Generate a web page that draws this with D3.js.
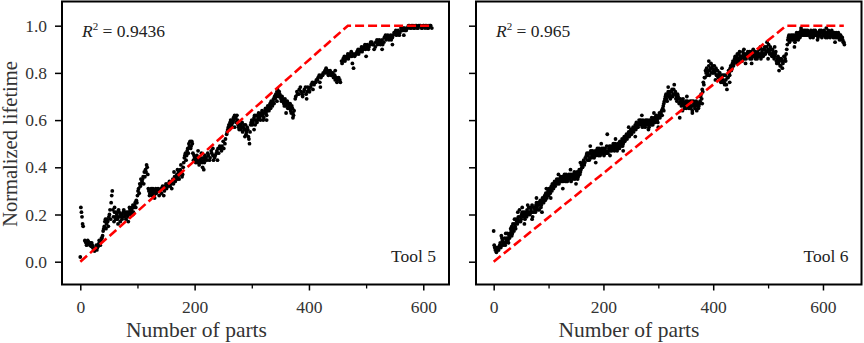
<!DOCTYPE html>
<html><head><meta charset="utf-8">
<script src="https://cdn.jsdelivr.net/npm/d3@7"></script>
<style>body{margin:0;background:#fff}svg{display:block}</style>
</head><body><svg id="c" width="864" height="343"></svg>
<script>
// Tool 5: [number of parts, normalized lifetime]
const tool5 = [[0,0.02],[1,0.23],[3,0.19],[4,0.16],[5,0.15],[8,0.09],[10,0.08],[12,0.075],[14,0.085],[17,0.07],[20,0.08],[22,0.06],[24,0.05],[26,0.055],[28,0.07],[30,0.06],[32,0.075],[34,0.08],[36,0.09],[38,0.10],[40,0.13],[42,0.15],[44,0.18],[46,0.16],[48,0.17],[50,0.19],[52,0.22],[54,0.25],[55,0.28],[56,0.30],[58,0.19],[60,0.21],[62,0.18],[64,0.20],[66,0.19],[68,0.21],[70,0.17],[72,0.20],[74,0.19],[76,0.22],[78,0.20],[80,0.18],[82,0.21],[84,0.20],[86,0.23],[88,0.21],[90,0.22],[92,0.24],[94,0.23],[96,0.25],[98,0.26],[100,0.28],[102,0.31],[104,0.33],[106,0.35],[108,0.34],[110,0.36],[112,0.38],[114,0.39],[116,0.41],[118,0.37],[120,0.30],[122,0.29],[124,0.31],[126,0.28],[128,0.30],[130,0.29],[132,0.31],[135,0.30],[138,0.28],[141,0.31],[144,0.32],[147,0.30],[150,0.33],[153,0.32],[156,0.34],[159,0.33],[162,0.35],[164,0.38],[166,0.34],[168,0.36],[170,0.35],[172,0.38],[174,0.37],[176,0.41],[178,0.36],[180,0.40],[182,0.44],[184,0.46],[186,0.45],[188,0.48],[190,0.50],[192,0.51],[194,0.49],[196,0.50],[198,0.43],[200,0.44],[202,0.42],[204,0.45],[206,0.43],[208,0.41],[210,0.44],[212,0.46],[214,0.40],[216,0.43],[218,0.45],[220,0.44],[223,0.46],[226,0.43],[229,0.47],[232,0.45],[235,0.44],[238,0.46],[241,0.48],[244,0.49],[247,0.47],[250,0.51],[253,0.50],[256,0.54],[258,0.56],[260,0.58],[262,0.59],[264,0.57],[266,0.60],[268,0.61],[270,0.62],[272,0.61],[274,0.62],[276,0.58],[278,0.56],[280,0.58],[282,0.57],[284,0.55],[286,0.58],[288,0.56],[290,0.54],[292,0.57],[294,0.53],[296,0.50],[298,0.58],[300,0.60],[302,0.59],[304,0.61],[306,0.58],[308,0.62],[310,0.60],[312,0.63],[314,0.61],[316,0.62],[318,0.64],[320,0.60],[322,0.63],[324,0.65],[326,0.62],[328,0.66],[330,0.64],[332,0.67],[334,0.68],[336,0.66],[338,0.69],[340,0.70],[342,0.71],[344,0.72],[346,0.71],[348,0.72],[350,0.70],[352,0.68],[354,0.69],[356,0.67],[358,0.69],[360,0.66],[362,0.68],[364,0.67],[366,0.65],[368,0.64],[370,0.66],[372,0.63],[374,0.64],[377,0.70],[380,0.71],[383,0.73],[386,0.72],[389,0.70],[392,0.73],[395,0.71],[398,0.74],[401,0.72],[404,0.75],[407,0.73],[410,0.76],[413,0.77],[416,0.78],[419,0.76],[422,0.79],[425,0.80],[428,0.81],[431,0.80],[434,0.79],[437,0.81],[440,0.80],[443,0.78],[446,0.77],[449,0.76],[452,0.78],[455,0.76],[458,0.84],[460,0.86],[463,0.85],[466,0.87],[469,0.86],[472,0.88],[475,0.87],[478,0.82],[481,0.88],[484,0.89],[487,0.88],[490,0.90],[493,0.89],[496,0.91],[499,0.90],[502,0.92],[505,0.91],[508,0.93],[511,0.92],[514,0.90],[517,0.93],[520,0.92],[523,0.94],[526,0.93],[529,0.92],[532,0.95],[535,0.94],[538,0.96],[541,0.95],[544,0.94],[547,0.96],[550,0.97],[553,0.96],[556,0.98],[559,0.97],[562,0.98],[565,0.99],[568,0.98],[571,0.99],[574,1.00],[577,0.99],[580,1.00],[583,0.99],[586,1.00],[589,0.99],[592,1.00],[595,1.00],[598,0.99],[601,1.00],[604,1.00],[607,0.99],[610,1.00],[613,1.00]];
const tool5More = [[2,0.21],[9,0.085],[11,0.07],[13,0.09],[15,0.08],[18,0.08],[19,0.065],[21,0.07],[23,0.055],[25,0.045],[27,0.06],[29,0.05],[31,0.065],[33,0.09],[35,0.07],[37,0.10],[39,0.11],[41,0.14],[43,0.17],[45,0.14],[47,0.18],[49,0.15],[51,0.20],[53,0.18],[57,0.22],[59,0.17],[61,0.19],[63,0.21],[65,0.18],[67,0.22],[69,0.19],[71,0.20],[73,0.18],[75,0.21],[77,0.19],[79,0.21],[81,0.20],[83,0.19],[85,0.21],[87,0.22],[89,0.20],[91,0.23],[93,0.21],[95,0.24],[97,0.23],[99,0.25],[101,0.30],[103,0.29],[105,0.32],[107,0.33],[109,0.35],[111,0.33],[113,0.36],[115,0.38],[117,0.40],[119,0.31],[121,0.28],[123,0.30],[125,0.29],[127,0.31],[129,0.28],[131,0.30],[133,0.29],[136,0.31],[139,0.30],[142,0.29],[145,0.31],[148,0.32],[151,0.31],[154,0.33],[157,0.32],[160,0.34],[163,0.33],[165,0.36],[167,0.35],[169,0.37],[171,0.36],[173,0.35],[175,0.39],[177,0.38],[179,0.37],[181,0.42],[183,0.45],[185,0.43],[187,0.47],[189,0.46],[191,0.49],[193,0.48],[195,0.51],[197,0.46],[199,0.45],[201,0.43],[203,0.44],[205,0.42],[207,0.44],[209,0.42],[211,0.43],[213,0.42],[215,0.44],[217,0.42],[219,0.44],[221,0.43],[224,0.45],[227,0.44],[230,0.46],[233,0.43],[236,0.45],[239,0.47],[242,0.46],[245,0.48],[248,0.49],[251,0.48],[254,0.52],[257,0.55],[259,0.57],[261,0.56],[263,0.60],[265,0.58],[267,0.59],[269,0.60],[271,0.61],[273,0.59],[275,0.60],[277,0.57],[279,0.58],[281,0.56],[283,0.59],[285,0.57],[287,0.56],[289,0.58],[291,0.55],[293,0.56],[295,0.52],[297,0.55],[299,0.59],[301,0.58],[303,0.60],[305,0.62],[307,0.60],[309,0.59],[311,0.61],[313,0.62],[315,0.60],[317,0.63],[319,0.62],[321,0.61],[323,0.64],[325,0.63],[327,0.64],[329,0.65],[331,0.66],[333,0.65],[335,0.67],[337,0.68],[339,0.67],[341,0.69],[343,0.70],[345,0.73],[347,0.70],[349,0.71],[351,0.69],[353,0.70],[355,0.68],[357,0.66],[359,0.68],[361,0.67],[363,0.65],[365,0.66],[367,0.67],[369,0.63],[371,0.65],[373,0.62],[376,0.69],[379,0.72],[382,0.71],[385,0.74],[388,0.71],[391,0.72],[394,0.74],[397,0.72],[400,0.73],[403,0.74],[406,0.76],[409,0.75],[412,0.76],[415,0.77],[418,0.79],[421,0.78],[424,0.79],[427,0.80],[430,0.82],[433,0.81],[436,0.80],[439,0.79],[442,0.80],[445,0.79],[448,0.78],[451,0.77],[454,0.77],[457,0.85],[459,0.85],[462,0.87],[465,0.86],[468,0.88],[471,0.87],[474,0.89],[477,0.88],[480,0.87],[483,0.88],[486,0.90],[489,0.89],[492,0.91],[495,0.90],[498,0.92],[501,0.91],[504,0.90],[507,0.92],[510,0.93],[513,0.92],[516,0.91],[519,0.94],[522,0.93],[525,0.92],[528,0.94],[531,0.93],[534,0.96],[537,0.95],[540,0.94],[543,0.96],[546,0.95],[549,0.97],[552,0.98],[555,0.97],[558,0.96],[561,0.99],[564,0.98],[567,0.99],[570,0.98],[573,0.99],[576,1.00],[579,0.99],[582,1.00],[585,0.99],[588,1.00],[591,0.99],[594,1.00],[597,0.99],[600,1.00],[603,0.99],[606,1.00],[609,0.99],[612,1.00],[615,0.99]];
const tool5Scatter = [[60,0.23],[66,0.16],[84,0.17],[92,0.20],[130,0.27],[146,0.28],[160,0.31],[170,0.39],[206,0.47],[216,0.39],[232,0.48],[240,0.43],[270,0.57],[288,0.53],[304,0.56],[326,0.60],[344,0.68],[360,0.63],[372,0.61],[396,0.69],[420,0.74],[446,0.81],[476,0.84],[500,0.87],[528,0.90],[546,0.92],[566,0.96]];

// Tool 6: [number of parts, normalized lifetime]
const tool6 = [[0,0.13],[1,0.07],[3,0.05],[5,0.04],[7,0.06],[9,0.05],[11,0.07],[13,0.06],[15,0.10],[17,0.07],[19,0.08],[21,0.07],[23,0.09],[25,0.12],[27,0.08],[29,0.10],[31,0.14],[33,0.11],[35,0.16],[37,0.13],[39,0.15],[41,0.18],[43,0.16],[45,0.19],[47,0.22],[49,0.17],[51,0.20],[53,0.19],[55,0.21],[57,0.18],[59,0.20],[61,0.22],[63,0.20],[65,0.21],[67,0.23],[69,0.21],[71,0.19],[73,0.23],[75,0.22],[77,0.24],[79,0.23],[81,0.25],[83,0.22],[85,0.26],[87,0.24],[89,0.27],[91,0.25],[93,0.28],[95,0.29],[97,0.27],[99,0.30],[101,0.31],[103,0.29],[105,0.32],[107,0.33],[109,0.31],[111,0.34],[113,0.33],[115,0.35],[117,0.34],[119,0.33],[121,0.35],[123,0.34],[125,0.36],[127,0.35],[129,0.37],[131,0.34],[133,0.36],[135,0.35],[137,0.37],[139,0.36],[141,0.34],[143,0.37],[145,0.36],[147,0.38],[149,0.36],[151,0.37],[153,0.35],[155,0.38],[157,0.37],[159,0.39],[161,0.40],[163,0.42],[165,0.41],[167,0.44],[169,0.45],[171,0.43],[173,0.46],[175,0.44],[177,0.47],[179,0.45],[181,0.46],[183,0.44],[185,0.47],[187,0.46],[189,0.48],[191,0.45],[193,0.47],[195,0.46],[197,0.48],[199,0.47],[201,0.45],[203,0.48],[205,0.46],[207,0.54],[209,0.47],[211,0.49],[213,0.48],[215,0.47],[217,0.49],[219,0.48],[221,0.50],[223,0.49],[225,0.47],[227,0.49],[229,0.48],[231,0.50],[233,0.51],[235,0.49],[237,0.52],[239,0.51],[241,0.53],[243,0.52],[245,0.54],[247,0.53],[249,0.55],[251,0.54],[253,0.56],[255,0.55],[257,0.57],[259,0.56],[261,0.58],[263,0.57],[265,0.60],[267,0.58],[269,0.59],[271,0.57],[273,0.59],[275,0.58],[277,0.60],[279,0.58],[281,0.59],[283,0.57],[285,0.59],[287,0.58],[289,0.60],[291,0.59],[293,0.61],[295,0.60],[297,0.61],[299,0.59],[301,0.62],[303,0.61],[305,0.63],[307,0.62],[309,0.66],[311,0.68],[313,0.70],[315,0.69],[317,0.71],[319,0.70],[321,0.72],[323,0.70],[325,0.73],[327,0.71],[329,0.75],[331,0.72],[333,0.70],[335,0.71],[337,0.69],[339,0.61],[341,0.68],[343,0.67],[345,0.69],[347,0.66],[349,0.67],[351,0.65],[353,0.68],[355,0.66],[357,0.67],[359,0.65],[361,0.68],[363,0.66],[365,0.67],[367,0.65],[369,0.68],[371,0.66],[373,0.65],[375,0.67],[377,0.70],[379,0.69],[381,0.72],[383,0.75],[385,0.78],[387,0.80],[389,0.79],[391,0.81],[393,0.79],[395,0.82],[397,0.80],[399,0.83],[401,0.81],[403,0.80],[405,0.82],[407,0.79],[409,0.78],[411,0.80],[413,0.77],[415,0.78],[417,0.76],[419,0.79],[421,0.75],[423,0.77],[425,0.73],[427,0.78],[429,0.80],[431,0.82],[433,0.81],[435,0.84],[437,0.83],[439,0.86],[441,0.85],[443,0.87],[445,0.86],[447,0.88],[449,0.86],[451,0.87],[453,0.85],[455,0.88],[457,0.86],[459,0.84],[461,0.87],[463,0.89],[465,0.88],[467,0.86],[469,0.89],[471,0.87],[473,0.90],[475,0.88],[477,0.86],[479,0.87],[481,0.89],[483,0.87],[485,0.88],[487,0.86],[489,0.89],[491,0.87],[493,0.90],[495,0.88],[497,0.91],[499,0.89],[501,0.92],[503,0.88],[505,0.90],[507,0.87],[509,0.89],[511,0.86],[513,0.88],[515,0.85],[517,0.86],[519,0.84],[521,0.86],[523,0.83],[525,0.85],[527,0.84],[529,0.87],[531,0.86],[533,0.88],[535,0.92],[537,0.95],[539,0.93],[541,0.95],[543,0.94],[545,0.96],[547,0.95],[549,0.93],[551,0.95],[553,0.96],[555,0.94],[557,0.96],[559,0.97],[561,0.96],[563,0.98],[565,0.97],[567,0.96],[569,0.98],[571,0.97],[573,0.96],[575,0.97],[577,0.95],[579,0.97],[581,0.96],[583,0.98],[585,0.97],[587,0.96],[589,0.97],[591,0.95],[593,0.97],[595,0.96],[597,0.98],[599,0.97],[601,0.96],[603,0.97],[605,0.95],[607,0.97],[609,0.96],[611,0.97],[613,0.95],[615,0.97],[617,0.96],[619,0.95],[621,0.97],[623,0.96],[625,0.95],[627,0.96],[629,0.95],[631,0.96],[633,0.94],[635,0.95],[637,0.93],[639,0.92]];
const tool6More = [[2,0.06],[4,0.05],[6,0.06],[8,0.05],[10,0.06],[12,0.08],[14,0.07],[16,0.09],[18,0.08],[20,0.10],[22,0.08],[24,0.10],[26,0.09],[28,0.11],[30,0.12],[32,0.13],[34,0.12],[36,0.14],[38,0.16],[40,0.14],[42,0.17],[44,0.18],[46,0.17],[48,0.19],[50,0.18],[52,0.21],[54,0.20],[56,0.19],[58,0.21],[60,0.19],[62,0.21],[64,0.23],[66,0.20],[68,0.22],[70,0.24],[72,0.21],[74,0.23],[76,0.21],[78,0.25],[80,0.22],[82,0.24],[84,0.25],[86,0.23],[88,0.25],[90,0.26],[92,0.27],[94,0.26],[96,0.28],[98,0.29],[100,0.28],[102,0.30],[104,0.31],[106,0.30],[108,0.32],[110,0.33],[112,0.32],[114,0.34],[116,0.33],[118,0.35],[120,0.34],[122,0.36],[124,0.35],[126,0.34],[128,0.36],[130,0.35],[132,0.37],[134,0.34],[136,0.36],[138,0.35],[140,0.37],[142,0.36],[144,0.35],[146,0.37],[148,0.35],[150,0.36],[152,0.38],[154,0.36],[156,0.39],[158,0.38],[160,0.41],[162,0.40],[164,0.43],[166,0.42],[168,0.44],[170,0.46],[172,0.45],[174,0.43],[176,0.46],[178,0.44],[180,0.47],[182,0.45],[184,0.46],[186,0.45],[188,0.47],[190,0.46],[192,0.48],[194,0.45],[196,0.47],[198,0.46],[200,0.48],[202,0.46],[204,0.47],[206,0.49],[208,0.46],[210,0.48],[212,0.47],[214,0.49],[216,0.48],[218,0.50],[220,0.47],[222,0.49],[224,0.48],[226,0.50],[228,0.49],[230,0.51],[232,0.49],[234,0.52],[236,0.50],[238,0.53],[240,0.52],[242,0.54],[244,0.53],[246,0.55],[248,0.54],[250,0.56],[252,0.55],[254,0.57],[256,0.56],[258,0.58],[260,0.59],[262,0.57],[264,0.58],[266,0.59],[268,0.60],[270,0.58],[272,0.60],[274,0.59],[276,0.57],[278,0.59],[280,0.60],[282,0.58],[284,0.60],[286,0.59],[288,0.61],[290,0.58],[292,0.60],[294,0.59],[296,0.62],[298,0.60],[300,0.61],[302,0.63],[304,0.62],[306,0.64],[308,0.65],[310,0.67],[312,0.69],[314,0.71],[316,0.68],[318,0.72],[320,0.71],[322,0.69],[324,0.72],[326,0.70],[328,0.73],[330,0.71],[332,0.69],[334,0.68],[336,0.70],[338,0.67],[340,0.69],[342,0.66],[344,0.68],[346,0.67],[348,0.65],[350,0.68],[352,0.66],[354,0.67],[356,0.65],[358,0.68],[360,0.66],[362,0.64],[364,0.68],[366,0.66],[368,0.67],[370,0.64],[372,0.67],[374,0.66],[376,0.68],[378,0.71],[380,0.73],[382,0.76],[384,0.78],[386,0.81],[388,0.82],[390,0.80],[392,0.83],[394,0.81],[396,0.84],[398,0.82],[400,0.80],[402,0.83],[404,0.81],[406,0.79],[408,0.81],[410,0.79],[412,0.80],[414,0.76],[416,0.79],[418,0.77],[420,0.76],[422,0.79],[424,0.75],[426,0.78],[428,0.81],[430,0.79],[432,0.83],[434,0.82],[436,0.85],[438,0.84],[440,0.87],[442,0.86],[444,0.88],[446,0.85],[448,0.89],[450,0.87],[452,0.86],[454,0.89],[456,0.87],[458,0.88],[460,0.86],[462,0.88],[464,0.87],[466,0.89],[468,0.88],[470,0.86],[472,0.88],[474,0.87],[476,0.89],[478,0.88],[480,0.86],[482,0.88],[484,0.90],[486,0.87],[488,0.88],[490,0.90],[492,0.88],[494,0.91],[496,0.89],[498,0.93],[500,0.90],[502,0.89],[504,0.91],[506,0.88],[508,0.90],[510,0.88],[512,0.87],[514,0.89],[516,0.84],[518,0.87],[520,0.85],[522,0.83],[524,0.86],[526,0.82],[528,0.85],[530,0.87],[532,0.85],[534,0.90],[536,0.94],[538,0.96],[540,0.94],[542,0.96],[544,0.95],[546,0.94],[548,0.96],[550,0.94],[552,0.97],[554,0.95],[556,0.97],[558,0.95],[560,0.98],[562,0.97],[564,0.96],[566,0.98],[568,0.97],[570,0.96],[572,0.98],[574,0.97],[576,0.96],[578,0.98],[580,0.97],[582,0.95],[584,0.96],[586,0.98],[588,0.96],[590,0.97],[592,0.96],[594,0.98],[596,0.97],[598,0.95],[600,0.97],[602,0.98],[604,0.96],[606,0.97],[608,0.95],[610,0.98],[612,0.96],[614,0.96],[616,0.98],[618,0.97],[620,0.96],[622,0.95],[624,0.97],[626,0.96],[628,0.97],[630,0.94],[632,0.96],[634,0.95],[636,0.94],[638,0.93]];
const tool6Scatter = [[14,0.11],[22,0.12],[33,0.15],[38,0.18],[44,0.21],[52,0.23],[56,0.16],[62,0.24],[70,0.18],[78,0.27],[88,0.21],[96,0.31],[104,0.27],[118,0.37],[126,0.31],[140,0.39],[150,0.33],[158,0.42],[176,0.49],[186,0.42],[196,0.50],[212,0.45],[222,0.52],[236,0.47],[246,0.57],[258,0.53],[270,0.62],[282,0.56],[292,0.63],[300,0.57],[310,0.64],[318,0.74],[344,0.64],[352,0.70],[362,0.63],[380,0.67],[392,0.85],[404,0.77],[416,0.82],[430,0.76],[444,0.84],[456,0.90],[470,0.84],[486,0.91],[500,0.86],[512,0.91],[520,0.81],[548,0.91],[560,0.99],[590,0.94],[606,0.99],[622,0.93]];

// Piecewise linear reference (red dashed)
const fit5 = [[0,0],[468,1],[615,1]];
const fit6 = [[0,0],[533,1],[638,1]];

const xTicks = [0,200,400,600];
const xMinorTicks = [100,300,500];
const yTicks = [0,0.2,0.4,0.6,0.8,1.0];
const r2Values = ["0.9436","0.965"];
const toolNames = ["Tool 5","Tool 6"];
const xLabel = "Number of parts";
const yLabel = "Normalized lifetime";

const FONT = "'Liberation Serif', 'Times New Roman', serif";
const svg = d3.select("#c");

const panels = [
  {data: tool5.concat(tool5More, tool5Scatter), fit: fit5, r2: r2Values[0], name: toolNames[0], xr:[62,449], xd:[-32,645], showY:true, xlabC:196.5},
  {data: tool6.concat(tool6More, tool6Scatter), fit: fit6, r2: r2Values[1], name: toolNames[1], xr:[476,861.5], xd:[-32.2,670.2], showY:false, xlabC:629}
];
const yScale = d3.scaleLinear().domain([-0.0966, 1.1025]).range([284.5, 1.5]);

panels.forEach(p => {
  const x = d3.scaleLinear().domain(p.xd).range(p.xr);
  const g = svg.append("g");

  const minor = g.append("g").attr("transform", `translate(0,${yScale.range()[0]})`)
    .call(d3.axisBottom(x).tickValues(xMinorTicks).tickSize(4).tickFormat(""));
  minor.select(".domain").remove();
  minor.selectAll("line").attr("stroke","#000").attr("stroke-width",1.3);

  const xa = g.append("g").attr("transform", `translate(0,${yScale.range()[0]})`)
    .call(d3.axisBottom(x).tickValues(xTicks).tickSize(6).tickPadding(10).tickFormat(d3.format("d")));
  xa.select(".domain").remove();
  xa.attr("font-family", FONT);
  xa.selectAll("line").attr("stroke","#000").attr("stroke-width",1.5);
  xa.selectAll("text").attr("font-family",FONT).attr("font-size",17.5).attr("fill","#333");

  const ya = g.append("g").attr("transform", `translate(${p.xr[0]},0)`)
    .call(d3.axisLeft(yScale).tickValues(yTicks).tickSize(7).tickPadding(8)
      .tickFormat(p.showY ? d3.format(".1f") : ""));
  ya.select(".domain").remove();
  ya.attr("font-family", FONT);
  ya.selectAll("line").attr("stroke","#000").attr("stroke-width",1.5);
  ya.selectAll("text").attr("font-family",FONT).attr("font-size",17.5).attr("fill","#333");

  const cid = "clip" + p.xr[0];
  svg.append("clipPath").attr("id", cid).append("rect")
    .attr("x", p.xr[0]).attr("y", yScale.range()[1])
    .attr("width", p.xr[1]-p.xr[0]).attr("height", yScale.range()[0]-yScale.range()[1]);

  const plot = g.append("g").attr("clip-path", `url(#${cid})`);
  plot.selectAll("circle").data(p.data).join("circle")
    .attr("cx", d => x(d[0])).attr("cy", d => yScale(d[1])).attr("r", 1.9).attr("fill","#000");

  plot.append("path").datum(p.fit)
    .attr("d", d3.line().x(d => x(d[0])).y(d => yScale(d[1])))
    .attr("fill","none").attr("stroke","#ff0000").attr("stroke-width",2.6)
    .attr("stroke-dasharray","9,4");

  g.append("rect").attr("x", p.xr[0]).attr("y", yScale.range()[1])
    .attr("width", p.xr[1]-p.xr[0]).attr("height", yScale.range()[0]-yScale.range()[1])
    .attr("fill","none").attr("stroke","#000").attr("stroke-width",2);

  const t = g.append("text").attr("x", p.xr[0] + 20).attr("y", 36.5)
    .attr("font-family",FONT).attr("font-size",17.5).attr("fill","#222");
  t.append("tspan").attr("font-style","italic").text("R");
  t.append("tspan").attr("font-size",11).attr("dy",-7).text("2");
  t.append("tspan").attr("dy",7).text(" = " + p.r2);

  g.append("text").attr("x", p.xr[1] - 58).attr("y", 261.5)
    .attr("font-family",FONT).attr("font-size",17.5).attr("fill","#222").text(p.name);

  g.append("text").attr("x", p.xlabC).attr("y", 336.5).attr("text-anchor","middle")
    .attr("font-family",FONT).attr("font-size",21.5).attr("fill","#333").text(xLabel);
});

svg.append("text").attr("transform","translate(17,144) rotate(-90)").attr("text-anchor","middle")
  .attr("font-family",FONT).attr("font-size",20.5).attr("fill","#333").text(yLabel);
</script></body></html>
